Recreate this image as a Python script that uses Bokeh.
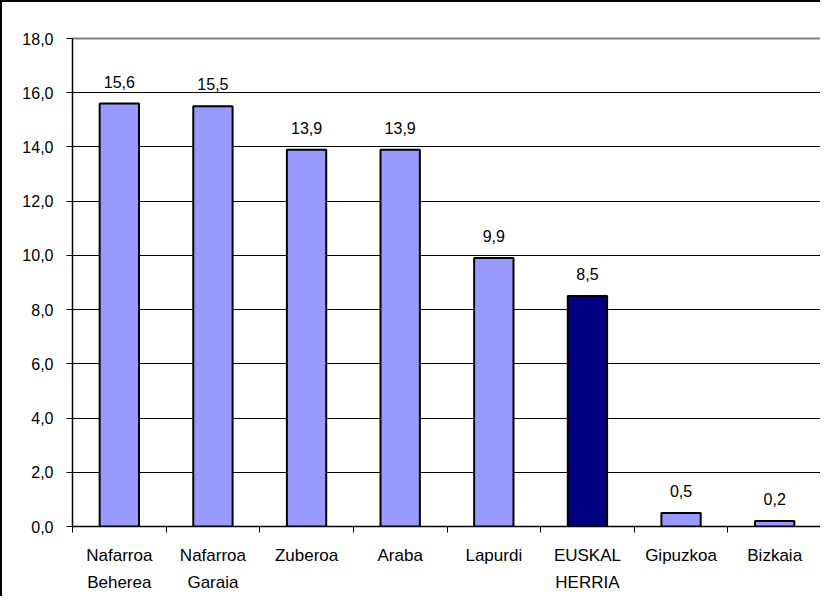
import numpy as np
from bokeh.plotting import figure
from bokeh.models import ColumnDataSource, FixedTicker, Range1d
from bokeh.core.properties import value
from bokeh.embed import file_html
from bokeh.resources import INLINE

categories = ["Nafarroa\nBeherea", "Nafarroa\nGaraia", "Zuberoa", "Araba", "Lapurdi",
              "EUSKAL\nHERRIA", "Gipuzkoa", "Bizkaia"]
values = [15.6, 15.5, 13.9, 13.9, 9.9, 8.5, 0.5, 0.2]
bar_colors = ["#9999FF", "#9999FF", "#9999FF", "#9999FF", "#9999FF", "#000080", "#9999FF", "#9999FF"]
y_ticks = [0, 2, 4, 6, 8, 10, 12, 14, 16, 18]

FONT = "Liberation Sans"

n = len(categories)
xs = np.arange(n) + 0.5
labels = [f"{v:.1f}".replace(".", ",") for v in values]
src = ColumnDataSource(dict(x=xs, top=values, color=bar_colors, label=labels))

p = figure(width=820, height=596, output_backend="svg", toolbar_location=None,
           x_range=Range1d(0, n), y_range=Range1d(0, 18),
           min_border_left=70, min_border_right=1, min_border_top=36, min_border_bottom=72)
p.styles = {"border-top": "2px solid black", "border-left": "2px solid black"}

p.vbar(x="x", top="top", width=0.42, bottom=0, source=src, fill_color="color",
       line_color="black", line_width=2)
p.text(x="x", y="top", text="label", source=src, text_align="center",
       text_baseline="bottom", y_offset=-16, text_font=value(FONT),
       text_font_size="16px", text_color="black")

p.outline_line_color = "#808080"
p.outline_line_width = 2
p.background_fill_color = "white"
p.border_fill_color = "white"

p.xgrid.visible = False
p.ygrid.ticker = FixedTicker(ticks=y_ticks)
p.ygrid.grid_line_color = "black"
p.ygrid.grid_line_width = 1

# y axis
p.yaxis.ticker = FixedTicker(ticks=y_ticks)
p.yaxis.major_label_overrides = {t: f"{t:.1f}".replace(".", ",") for t in y_ticks}
p.yaxis.major_label_text_font = FONT
p.yaxis.major_label_text_font_size = "16px"
p.yaxis.major_label_text_color = "black"
p.yaxis.major_tick_in = 0
p.yaxis.major_tick_out = 6
p.yaxis.minor_tick_line_color = None
p.yaxis.axis_line_color = "black"
p.yaxis.major_tick_line_color = "black"
p.yaxis.major_label_standoff = 13

# x axis
p.xaxis.ticker = FixedTicker(ticks=list(xs), minor_ticks=list(range(n + 1)))
p.xaxis.major_label_overrides = {float(x): c for x, c in zip(xs, categories)}
p.xaxis.major_label_text_font = FONT
p.xaxis.major_label_text_font_size = "17px"
p.xaxis.major_label_text_color = "black"
p.xaxis.major_label_text_line_height = 1.45
p.xaxis.major_tick_in = 0
p.xaxis.major_tick_out = 0
p.xaxis.minor_tick_in = 0
p.xaxis.minor_tick_out = 6
p.xaxis.minor_tick_line_color = "black"
p.xaxis.axis_line_color = "black"
p.xaxis.major_label_standoff = 13

open("out.html", "w").write(file_html(p, INLINE))
